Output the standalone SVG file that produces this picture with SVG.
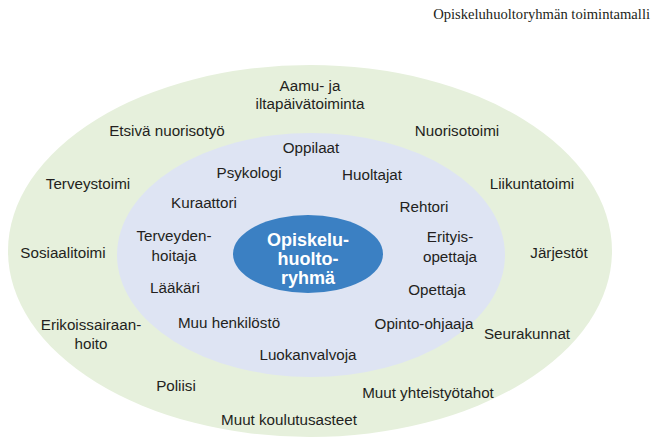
<svg xmlns="http://www.w3.org/2000/svg" width="658" height="438" viewBox="0 0 658 438">
<style>
.t{font-family:"Liberation Sans",Arial,sans-serif;font-size:15.2px;fill:#231f20;text-anchor:middle}
.c{font-family:"Liberation Sans",Arial,sans-serif;font-size:18px;font-weight:bold;fill:#ffffff;text-anchor:middle}
.title{font-family:"Liberation Serif","Times New Roman",serif;font-size:14.6px;fill:#231f20;text-anchor:end}
</style>
<rect width="658" height="438" fill="#ffffff"/>
<text class="title" x="650" y="19">Opiskeluhuoltoryhmän toimintamalli</text>
<g id="outer">
<ellipse cx="310" cy="251" rx="302" ry="186" fill="#e6f0dc"/>
<text class="t" x="310" y="91">Aamu- ja</text>
<text class="t" x="310" y="109">iltapäivätoiminta</text>
<text class="t" x="167" y="136">Etsivä nuorisotyö</text>
<text class="t" x="457" y="136">Nuorisotoimi</text>
<text class="t" x="88" y="189">Terveystoimi</text>
<text class="t" x="532" y="189">Liikuntatoimi</text>
<text class="t" x="63" y="258">Sosiaalitoimi</text>
<text class="t" x="559" y="258">Järjestöt</text>
<text class="t" x="91" y="330">Erikoissairaan-</text>
<text class="t" x="91" y="349">hoito</text>
<text class="t" x="527" y="339">Seurakunnat</text>
<text class="t" x="176" y="391">Poliisi</text>
<text class="t" x="428" y="398">Muut yhteistyötahot</text>
<text class="t" x="289" y="425">Muut koulutusasteet</text>
</g>
<g id="inner">
<ellipse cx="311" cy="255" rx="194" ry="122" fill="#dee4f3"/>
<text class="t" x="311" y="153">Oppilaat</text>
<text class="t" x="249" y="178">Psykologi</text>
<text class="t" x="372" y="180">Huoltajat</text>
<text class="t" x="204" y="208">Kuraattori</text>
<text class="t" x="424" y="212">Rehtori</text>
<text class="t" x="174" y="241">Terveyden-</text>
<text class="t" x="174" y="261">hoitaja</text>
<text class="t" x="450" y="242">Erityis-</text>
<text class="t" x="450" y="262">opettaja</text>
<text class="t" x="175" y="293">Lääkäri</text>
<text class="t" x="437" y="295">Opettaja</text>
<text class="t" x="229" y="328">Muu henkilöstö</text>
<text class="t" x="424" y="329">Opinto-ohjaaja</text>
<text class="t" x="308" y="360">Luokanvalvoja</text>
</g>
<g id="center">
<ellipse cx="308" cy="254" rx="75" ry="39" fill="#3b80c3"/>
<text class="c" x="308" y="246">Opiskelu-</text>
<text class="c" x="308" y="265">huolto-</text>
<text class="c" x="308" y="284">ryhmä</text>
</g>
<g id="connectors"/>
</svg>
